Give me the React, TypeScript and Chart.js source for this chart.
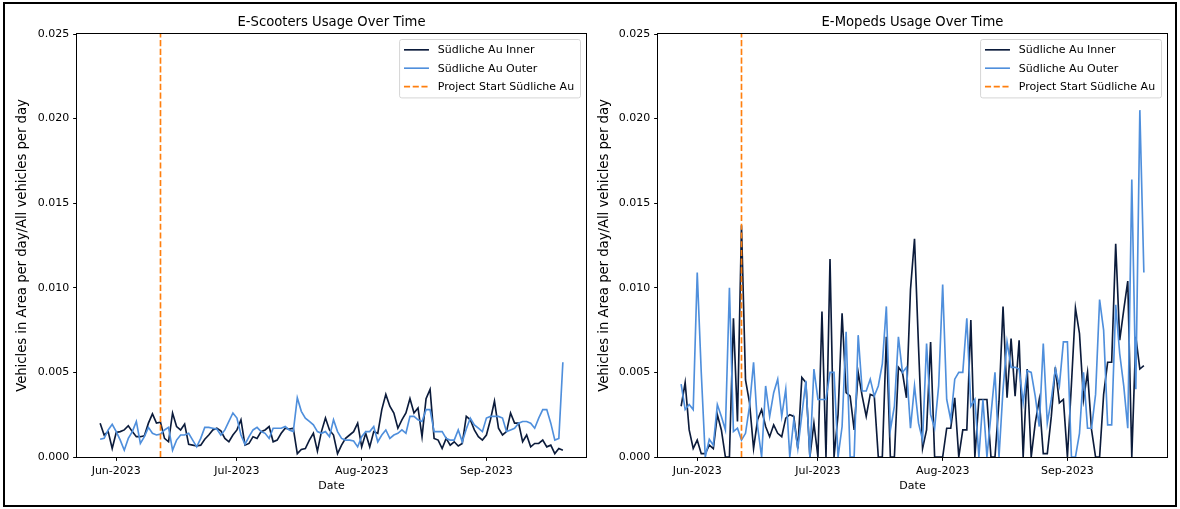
import React, { useEffect, useRef } from "react";
import { Chart, registerables } from "chart.js";

Chart.register(...registerables);

const FONT = "'DejaVu Sans', 'Liberation Sans', sans-serif";

// x positions: days since 2023-05-28 (daily observations through 2023-09-20)
const dayIndex: number[] = Array.from({ length: 116 }, (_, i) => i);
const tickDays = [4, 34, 65, 96];
const tickLabels = ["Jun-2023", "Jul-2023", "Aug-2023", "Sep-2023"];
const yTickValues = [0, 0.005, 0.01, 0.015, 0.02, 0.025];
const projectStartDay = 15; // 2023-06-12

const seriesLabels = ["Südliche Au Inner", "Südliche Au Outer", "Project Start Südliche Au"];
const panelTitles = ["E-Scooters Usage Over Time", "E-Mopeds Usage Over Time"];
const xTitle = "Date";
const yTitle = "Vehicles in Area per day/All vehicles per day";

const scooterInner = [0.0020,0.0013,0.0015,0.0005,0.00145,0.0015,0.0016,0.00185,0.0015,0.0012,
0.0012,0.00125,0.0020,0.00255,0.0020,0.00205,0.0011,0.0009,0.0026,0.0018,
0.0016,0.00195,0.00075,0.0007,0.00065,0.0007,0.00105,0.0013,0.0016,0.0017,
0.00155,0.0011,0.0009,0.0013,0.0016,0.0022,0.0007,0.0008,0.0012,0.0011,
0.0015,0.0016,0.0018,0.0009,0.0010,0.0014,0.0017,0.00165,0.0017,0.0002,
0.00045,0.0005,0.0010,0.0014,0.00035,0.0015,0.0023,0.0016,0.0013,0.0002,
0.0007,0.0011,0.0013,0.0015,0.0020,0.0006,0.0014,0.0006,0.0015,0.0014,
0.0028,0.0037,0.0030,0.0026,0.0017,0.0022,0.0026,0.00345,0.0026,0.0029,
0.0012,0.00345,0.0040,0.0011,0.0010,0.0005,0.0011,0.0007,0.0009,0.00065,
0.0008,0.0024,0.0022,0.0016,0.0012,0.0010,0.0013,0.0022,0.0033,0.0017,
0.0013,0.0015,0.0026,0.0020,0.0020,0.0009,0.0013,0.0006,0.0008,0.0008,
0.0010,0.0006,0.0007,0.0002,0.0005,0.0004];

const scooterOuter = [0.00105,0.0011,0.0016,0.00193,0.0015,0.0010,0.0004,0.0011,0.0015,0.0021,
0.0008,0.0012,0.00175,0.0014,0.0013,0.00135,0.0016,0.00175,0.0004,0.0010,
0.0013,0.0013,0.0014,0.0010,0.0006,0.0011,0.00175,0.00175,0.0017,0.00165,
0.0013,0.0016,0.0021,0.0026,0.0023,0.0013,0.00075,0.0012,0.0016,0.00175,
0.0015,0.0014,0.0011,0.0017,0.0017,0.0017,0.0018,0.0016,0.0015,0.0035,
0.0027,0.0023,0.0021,0.0019,0.0015,0.0014,0.0015,0.0012,0.0022,0.0015,
0.0011,0.0010,0.0010,0.00095,0.0006,0.0012,0.0015,0.0015,0.0018,0.0009,
0.0013,0.0016,0.0011,0.0013,0.0014,0.0016,0.0014,0.0024,0.0024,0.0022,
0.0021,0.0028,0.0028,0.0015,0.0015,0.0015,0.0011,0.0010,0.0010,0.0016,
0.0009,0.00165,0.0023,0.0019,0.0017,0.0015,0.0023,0.0024,0.0024,0.0024,
0.0023,0.0015,0.0016,0.0017,0.0020,0.0021,0.0021,0.0020,0.0017,0.0023,
0.0028,0.0028,0.0020,0.0010,0.0011,0.0056];

const mopedInner = [0.0030,0.0044,0.0016,0.0005,0.0010,0.0002,0.0002,0.0007,0.0005,0.0025,
0.0016,0,0,0.0082,0.0021,0.0137,0.00455,0.0032,0.0005,0.0022,
0.0028,0.0018,0.0012,0.0019,0.0014,0.0012,0.0023,0.0025,0.0024,0.0005,
0.0047,0.0044,0,0.0020,0,0.0086,0,0.0117,0,0.0025,
0.0085,0.0038,0.0036,0.0016,0.0050,0.0036,0.0024,0.0037,0.0036,0,
0,0.0071,0,0,0.0053,0.0050,0.0035,0.0099,0.0129,0.0065,
0.0005,0.0016,0.0068,0,0,0,0.0017,0.0017,0.0035,0,
0.0016,0.0016,0.0081,0,0.0034,0.0034,0.0034,0,0,0.0033,
0.0089,0.0035,0.0070,0.0036,0.0069,0,0.0052,0,0.0020,0.0034,
0.0002,0.0002,0.0024,0.0053,0.0032,0.0034,0,0.0043,0.0088,0.0073,
0.0034,0.0050,0.0016,0,0,0.0037,0.0056,0.0056,0.0126,0.0069,
0.0087,0.0104,0,0.0071,0.0052,0.0054];

const mopedOuter = [0.0043,0.0028,0.0031,0.0028,0.0109,0.0050,0,0.00105,0.0007,0.0031,
0.0024,0.0016,0.0100,0.0015,0.0017,0.0010,0.0014,0.0030,0.0056,0.0018,
0,0.0042,0.0024,0.0038,0.0046,0.0024,0.0040,0,0.0022,0.0005,
0.0025,0.0045,0,0.0052,0.0034,0.0034,0.0034,0.0050,0.0050,0,
0.0018,0.0074,0,0,0.0072,0.0039,0.0039,0.0046,0.0036,0.0042,
0.0055,0.0089,0.0016,0.0030,0.0071,0.0050,0.0053,0.0017,0.0042,0.0020,
0.0010,0.0067,0.0025,0.0017,0.0042,0.0102,0.0034,0.0022,0.0046,0.0050,
0.0050,0.0082,0.0030,0.0034,0,0.0034,0,0.0025,0.0050,0,
0.0040,0.0068,0.0053,0.0053,0.0052,0.0032,0.0051,0.0050,0.0036,0.0018,
0.0067,0.0020,0.0034,0.0052,0.0042,0.0068,0.0068,0,0,0.0014,
0.0050,0.0017,0.0017,0.0037,0.0093,0.0075,0.0019,0.0019,0.0090,0.0061,
0.0042,0.0017,0.0164,0.0040,0.0205,0.0109];

const COLOR_INNER = "#0b1b3b";
const COLOR_OUTER = "#4f8fdc";
const COLOR_START = "#ff7f0e";

const FS = 11;
const YLABEL_FS = 13.2;
const TITLE_FS = 13.2;
const LW = 1.65;
const TICK_LEN = 3.85;
const TICK_PAD = 3.85;

function mplDecor(title: string) {
  return {
    id: "mplDecor",
    afterDatasetsDraw(chart: any) {
      const { ctx, chartArea: a } = chart;
      ctx.save();
      // spines
      ctx.strokeStyle = "#000";
      ctx.lineWidth = 1;
      ctx.setLineDash([]);
      const l = Math.round(a.left) - 0.5;
      const t = Math.round(a.top) - 0.5;
      const r = Math.round(a.right) + 0.5;
      const b = Math.round(a.bottom) + 0.5;
      ctx.strokeRect(l, t, r - l, b - t);

      // legend (upper right, matplotlib style)
      ctx.font = `${FS}px ${FONT}`;
      const items = chart.data.datasets.map((ds: any) => ({
        label: ds.label,
        color: ds.borderColor,
        dash: ds.borderDash || [],
        width: ds.borderWidth,
      }));
      const pad = 0.4 * FS;
      const handleLen = 25;
      const handlePad = 0.8 * FS;
      const spacing = 0.5 * FS;
      const axPad = 0.5 * FS;
      const rowH = 1.17 * FS;
      const textW = Math.max(...items.map((it: any) => ctx.measureText(it.label).width));
      const boxW = pad * 2 + handleLen + handlePad + textW + 2;
      const boxH = pad * 2 + items.length * rowH + (items.length - 1) * spacing;
      const bx = a.right - axPad - boxW;
      const by = a.top + axPad;
      const rad = 0.2 * FS;
      ctx.beginPath();
      ctx.moveTo(bx + rad, by);
      ctx.lineTo(bx + boxW - rad, by);
      ctx.arcTo(bx + boxW, by, bx + boxW, by + rad, rad);
      ctx.lineTo(bx + boxW, by + boxH - rad);
      ctx.arcTo(bx + boxW, by + boxH, bx + boxW - rad, by + boxH, rad);
      ctx.lineTo(bx + rad, by + boxH);
      ctx.arcTo(bx, by + boxH, bx, by + boxH - rad, rad);
      ctx.lineTo(bx, by + rad);
      ctx.arcTo(bx, by, bx + rad, by, rad);
      ctx.closePath();
      ctx.fillStyle = "rgba(255,255,255,0.8)";
      ctx.fill();
      ctx.strokeStyle = "rgba(204,204,204,0.8)";
      ctx.lineWidth = 1;
      ctx.stroke();
      items.forEach((it: any, i: number) => {
        const cy = by + pad + i * (rowH + spacing) + rowH / 2 - 0.5;
        const hx = bx + pad;
        ctx.beginPath();
        ctx.setLineDash(it.dash);
        ctx.strokeStyle = it.color;
        ctx.lineWidth = it.width;
        ctx.moveTo(hx, cy);
        ctx.lineTo(hx + handleLen, cy);
        ctx.stroke();
        ctx.setLineDash([]);
        ctx.fillStyle = "#000";
        ctx.textAlign = "left";
        ctx.textBaseline = "middle";
        ctx.fillText(it.label, hx + handleLen + handlePad, cy + 0.5);
      });

      // title
      ctx.font = `${TITLE_FS}px ${FONT}`;
      ctx.fillStyle = "#000";
      ctx.textAlign = "center";
      ctx.textBaseline = "alphabetic";
      ctx.fillText(title, (a.left + a.right) / 2, a.top - 8.3);
      ctx.restore();
    },
  };
}

type PanelProps = {
  x: number;
  width: number;
  title: string;
  inner: number[];
  outer: number[];
  yAxisWidth: number;
  padRight: number;
  yTitlePad: number;
};

function Panel({ x, width, title, inner, outer, yAxisWidth, padRight, yTitlePad }: PanelProps) {
  const ref = useRef<HTMLCanvasElement | null>(null);
  useEffect(() => {
    if (!ref.current) return;
    const chart = new Chart(ref.current, {
      type: "line",
      data: {
        datasets: [
          {
            label: seriesLabels[0],
            data: dayIndex.map((d, i) => ({ x: d, y: inner[i] })),
            borderColor: COLOR_INNER,
            backgroundColor: COLOR_INNER,
            borderWidth: LW,
            pointRadius: 0,
            tension: 0,
            order: 2,
          },
          {
            label: seriesLabels[1],
            data: dayIndex.map((d, i) => ({ x: d, y: outer[i] })),
            borderColor: COLOR_OUTER,
            backgroundColor: COLOR_OUTER,
            borderWidth: LW,
            pointRadius: 0,
            tension: 0,
            order: 1,
          },
          {
            label: seriesLabels[2],
            data: [
              { x: projectStartDay, y: yTickValues[0] },
              { x: projectStartDay, y: yTickValues[yTickValues.length - 1] },
            ],
            borderColor: COLOR_START,
            backgroundColor: COLOR_START,
            borderWidth: LW,
            borderDash: [6.1, 2.64],
            pointRadius: 0,
            tension: 0,
            order: 0,
          },
        ],
      },
      options: {
        responsive: false,
        animation: false,
        layout: { padding: { left: 0, right: padRight, top: 34, bottom: 0 } },
        plugins: { legend: { display: false }, tooltip: { enabled: false }, title: { display: false } },
        scales: {
          x: {
            type: "linear",
            min: -5.75,
            max: 120.75,
            afterFit: (s: any) => {
              s.height = 52;
            },
            afterBuildTicks: (s: any) => {
              s.ticks = tickDays.map((v) => ({ value: v }));
            },
            ticks: {
              autoSkip: false,
              maxRotation: 0,
              padding: TICK_PAD,
              color: "#000",
              font: { family: FONT, size: FS },
              callback: (v: any) => {
                const i = tickDays.indexOf(Number(v));
                return i >= 0 ? tickLabels[i] : "";
              },
            },
            grid: {
              display: true,
              drawOnChartArea: false,
              drawTicks: true,
              tickLength: TICK_LEN,
              tickColor: "#000",
              tickWidth: 1,
            },
            border: { display: false },
            title: {
              display: true,
              text: xTitle,
              color: "#000",
              font: { family: FONT, size: FS },
              padding: { top: 0, bottom: 16.4 },
            },
          },
          y: {
            type: "linear",
            min: yTickValues[0],
            max: yTickValues[yTickValues.length - 1],
            afterFit: (s: any) => {
              s.width = yAxisWidth;
            },
            afterBuildTicks: (s: any) => {
              s.ticks = yTickValues.map((v) => ({ value: v }));
            },
            ticks: {
              padding: TICK_PAD,
              color: "#000",
              font: { family: FONT, size: FS },
              callback: (v: any) => Number(v).toFixed(3),
            },
            grid: {
              display: true,
              drawOnChartArea: false,
              drawTicks: true,
              tickLength: TICK_LEN,
              tickColor: "#000",
              tickWidth: 1,
            },
            border: { display: false },
            title: {
              display: true,
              text: yTitle,
              color: "#000",
              font: { family: FONT, size: YLABEL_FS },
              padding: { top: yTitlePad, bottom: 0 },
            },
          },
        },
      },
      plugins: [mplDecor(title)],
    } as any);
    return () => chart.destroy();
  }, []);
  return (
    <canvas
      ref={ref}
      width={width}
      height={509}
      style={{ position: "absolute", left: x, top: 0, width, height: 509 }}
    />
  );
}

export default function App() {
  return (
    <div
      style={{
        position: "absolute",
        left: 0,
        top: 0,
        width: 1180,
        height: 509,
        background: "#fff",
        overflow: "hidden",
      }}
    >
      <div
        style={{
          position: "absolute",
          left: 3,
          top: 2,
          width: 1174,
          height: 505,
          border: "2px solid #000",
          boxSizing: "border-box",
        }}
      />
      <Panel
        x={0}
        width={590}
        title={panelTitles[0]}
        inner={scooterInner}
        outer={scooterOuter}
        yAxisWidth={77}
        padRight={4}
        yTitlePad={14.3}
      />
      <Panel
        x={590}
        width={590}
        title={panelTitles[1]}
        inner={mopedInner}
        outer={mopedOuter}
        yAxisWidth={68}
        padRight={13}
        yTitlePad={6.3}
      />
    </div>
  );
}
